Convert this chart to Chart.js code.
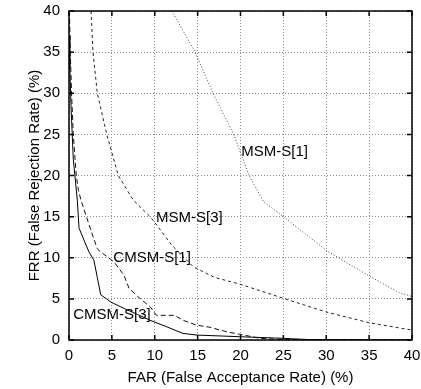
<!DOCTYPE html>
<html>
<head>
<meta charset="utf-8">
<script src="https://cdn.jsdelivr.net/npm/chart.js@4.4.1/dist/chart.umd.min.js"></script>
<style>
  html, body { margin: 0; padding: 0; background: #fff; }
</style>
</head>
<body>
<canvas id="roc-chart" width="421" height="389"></canvas>
<script>
// FAR / FRR points (percent)
const msm1Far = [12, 14.7, 16.8, 19.2, 21, 22.7, 25, 30, 31.4, 35, 38.6, 40];
const msm1Frr = [40, 35, 30, 25, 20, 16.8, 15, 10.9, 10, 7.8, 5.7, 5.3];

const msm3Far = [2.57, 2.8, 3.3, 4.4, 5.75, 7.5, 9.45, 10, 12, 14.5, 17, 19.9, 25.2, 30, 35, 40];
const msm3Frr = [40, 35, 30, 25, 20, 17, 15, 14.3, 11.5, 8.9, 7.6, 6.8, 5, 3.4, 2.1, 1.2];

const cmsm1Far = [0.05, 0.15, 0.3, 0.5, 0.85, 1.1, 1.4, 2.5, 3.3, 3.7, 5.25, 6.4, 7, 8, 9.5, 10.2, 12.3, 13.3, 14.9, 16.4, 18.4, 19.9, 22.3, 25, 40];
const cmsm1Frr = [40, 35, 30, 25, 20, 18.2, 17, 13.5, 11.1, 10.7, 9.5, 7.9, 6.3, 5.3, 4.0, 3.0, 3.0, 2.4, 1.8, 1.55, 1.0, 0.7, 0.2, 0.05, 0];

const cmsm3Far = [0, 0.1, 0.25, 0.5, 0.97, 1.17, 2.33, 2.9, 3.3, 3.7, 4.9, 6.5, 8, 9.45, 11.4, 13.3, 14.9, 19.9, 25, 28, 40];
const cmsm3Frr = [37, 33, 28, 22, 17, 13.6, 10.7, 9.7, 7.6, 5.5, 4.6, 3.8, 3.1, 2.4, 1.6, 0.8, 0.6, 0.4, 0.2, 0.05, 0];

const seriesNames = ['MSM-S[1]', 'MSM-S[3]', 'CMSM-S[1]', 'CMSM-S[3]'];
// where each curve name is written inside the plot (left edge, middle)
const labelFar = [20.1, 10.15, 5.17, 0.5];
const labelFrr = [22.9, 14.9, 9.93, 3.04];

const tickValues = [0, 5, 10, 15, 20, 25, 30, 35, 40];

const FONT = "'Liberation Sans', Arial, Helvetica, sans-serif";

function toPoints(xs, ys) {
  return xs.map((x, i) => ({ x, y: ys[i] }));
}

const frameAndLabels = {
  id: 'frameAndLabels',
  afterDatasetsDraw(chart) {
    const { ctx, chartArea: a, scales } = chart;
    const xs = scales.x;
    const ys = scales.y;
    ctx.save();
    ctx.strokeStyle = '#000';
    ctx.lineWidth = 1.5;
    ctx.strokeRect(a.left, a.top, a.right - a.left, a.bottom - a.top);

    // inward tick marks on all four sides
    ctx.beginPath();
    tickValues.forEach((v) => {
      const px = xs.getPixelForValue(v);
      ctx.moveTo(px, a.bottom);
      ctx.lineTo(px, a.bottom - 5);
      ctx.moveTo(px, a.top);
      ctx.lineTo(px, a.top + 5);
      const py = ys.getPixelForValue(v);
      ctx.moveTo(a.left, py);
      ctx.lineTo(a.left + 5, py);
      ctx.moveTo(a.right, py);
      ctx.lineTo(a.right - 5, py);
    });
    ctx.stroke();

    ctx.fillStyle = '#000';
    ctx.font = '15px ' + FONT;
    ctx.textAlign = 'left';
    ctx.textBaseline = 'middle';
    seriesNames.forEach((name, i) => {
      ctx.fillText(name, xs.getPixelForValue(labelFar[i]), ys.getPixelForValue(labelFrr[i]));
    });
    ctx.restore();
  },
};

const axisStyle = (title, isY) => ({
  type: 'linear',
  min: 0,
  max: 40,
  afterBuildTicks: (scale) => {
    scale.ticks = tickValues.map((v) => ({ value: v }));
  },
  afterFit: (scale) => {
    if (isY) {
      scale.width = 69;
      scale.paddingTop = 0;
      scale.paddingBottom = 0;
    } else {
      scale.height = 49;
      scale.paddingLeft = 0;
      scale.paddingRight = 0;
    }
  },
  grid: {
    color: '#8a8a8a',
    lineWidth: 1,
    drawTicks: false,
  },
  border: { display: false, dash: [1, 2] },
  ticks: {
    color: '#000',
    font: { family: FONT, size: 15 },
    padding: isY ? 9 : 7,
    autoSkip: false,
    maxRotation: 0,
  },
  title: {
    display: true,
    text: title,
    color: '#000',
    font: { family: FONT, size: 15 },
    padding: isY ? { top: 26, bottom: 0 } : { top: 0, bottom: 2 },
  },
});

const lineSet = (label, xs, ys, color, dash, width) => ({
  label,
  data: toPoints(xs, ys),
  showLine: true,
  borderColor: color,
  borderWidth: width,
  borderDash: dash,
  pointRadius: 0,
  tension: 0,
  fill: false,
});

new Chart(document.getElementById('roc-chart'), {
  type: 'scatter',
  data: {
    datasets: [
      lineSet(seriesNames[0], msm1Far, msm1Frr, '#444', [1, 2], 1),
      lineSet(seriesNames[1], msm3Far, msm3Frr, '#222', [3, 3], 1),
      lineSet(seriesNames[2], cmsm1Far, cmsm1Frr, '#111', [5, 3], 1),
      lineSet(seriesNames[3], cmsm3Far, cmsm3Frr, '#000', [], 1),
    ],
  },
  options: {
    responsive: false,
    animation: false,
    layout: { padding: { top: 11, right: 9, left: 0, bottom: 0 } },
    plugins: {
      legend: { display: false },
      tooltip: { enabled: false },
    },
    scales: {
      x: axisStyle('FAR (False Acceptance Rate) (%)', false),
      y: axisStyle('FRR (False Rejection Rate) (%)', true),
    },
  },
  plugins: [frameAndLabels],
});
</script>
</body>
</html>
